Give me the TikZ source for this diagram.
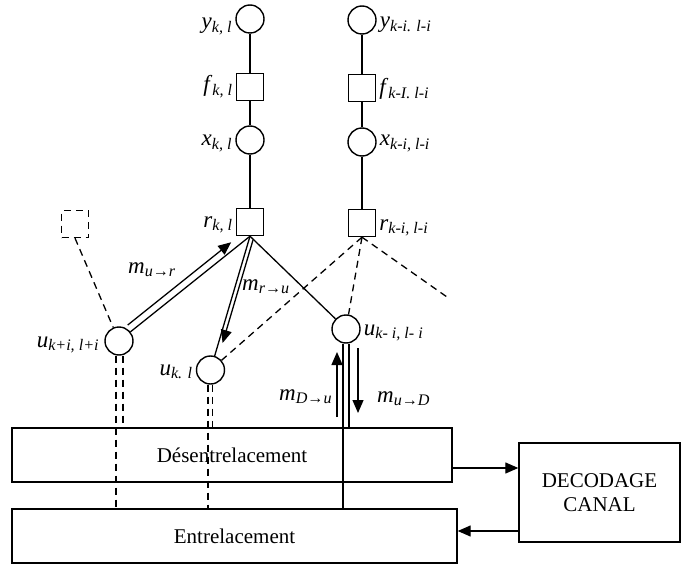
\documentclass[tikz,border=0pt]{standalone}
\usepackage{fontspec}
\setmainfont{Liberation Serif}
\usetikzlibrary{calc,arrows.meta}

\newcommand{\vname}[2]{\textit{#1}\textsubscript{\textit{#2}}}

\tikzset{
  var/.style={circle,draw,line width=1.4pt,minimum size=28pt,inner sep=0pt},
  fac/.style={rectangle,draw,line width=1.4pt,minimum size=27pt,inner sep=0pt},
  blk/.style={rectangle,draw,line width=1.4pt,inner sep=0pt,font=\fontsize{21}{24}\selectfont},
  lblg/.style={inner sep=3pt,anchor=base east,font=\fontsize{23}{26}\selectfont},
  lbld/.style={inner sep=3pt,anchor=base west,font=\fontsize{23}{26}\selectfont},
  lien/.style={line width=1.3pt},
  tiret/.style={line width=1.3pt,dash pattern=on 7pt off 5pt},
  msg/.style={-{Triangle[length=13pt,width=11pt]},line width=1.3pt},
}

\begin{document}
\begin{tikzpicture}[x=1pt,y=-1pt]
\useasboundingbox (0,0) rectangle (682,564);
% colonne k,l
\node[var] (y1) at (250,19) {};
\node[fac] (f1) at (250,87) {};
\node[var] (x1) at (250,140) {};
\node[fac] (r1) at (250,222) {};
% colonne k-i,l-i
\node[var] (y2) at (362,20) {};
\node[fac] (f2) at (362,88) {};
\node[var] (x2) at (362,142) {};
\node[fac] (r2) at (362,223) {};
\node[fac,tiret] (r0) at (75,224) {};
% noeuds u
\node[var] (u1) at (119,341) {};
\node[var] (u2) at (210.5,370) {};
\node[var] (u3) at (346,329) {};
% blocs
\node[blk,minimum width=440pt,minimum height=54pt] (des) at (232,455) {Désentrelacement};
\node[blk,minimum width=445pt,minimum height=54pt] (ent) at (234.5,536) {Entrelacement};
\node[blk,minimum width=161pt,minimum height=99pt,align=center] (dec) at (599.5,492.5) {DECODAGE\\CANAL};
% etiquettes
\node[lblg] (ly1) at ($(y1.west)+(0,10)$) {\vname{y}{k, l}};
\node[lblg] (lf1) at ($(f1.west)+(0,5)$) {\vname{f}{k, l}};
\node[lblg] (lx1) at ($(x1.west)+(0,6)$) {\vname{x}{k, l}};
\node[lblg] (lr1) at ($(r1.west)+(0,5)$) {\vname{r}{k, l}};
\node[lbld] (ly2) at ($(y2.east)+(0,8)$) {\vname{y}{k-i. l-i}};
\node[lbld] (lf2) at ($(f2.east)+(0,7)$) {\vname{f}{k-I. l-i}};
\node[lbld] (lx2) at ($(x2.east)+(0,4)$) {\vname{x}{k-i, l-i}};
\node[lbld] (lr2) at ($(r2.east)+(0,7)$) {\vname{r}{k-i, l-i}};
\node[lblg] (lu1) at ($(u1.west)+(-2,6)$) {\vname{u}{k+i, l+i}};
\node[lblg] (lu2) at ($(u2.west)+(0,5)$) {\vname{u}{k. l}};
\node[lbld] (lu3) at ($(u3.east)+(0,6)$) {\vname{u}{k- i, l- i}};
% liens
\draw[lien] (y1) -- (f1) -- (x1) -- (r1);
\draw[lien] (y2) -- (f2) -- (x2) -- (r2);
\draw[lien] (r1.south) -- (u1);
\draw[lien] (r1.south) -- (u2);
\draw[lien] (r1.south) -- (u3);
\coordinate (fin) at (447,297);
\draw[tiret] (r2.south) -- (u2);
\draw[tiret] (r2.south) -- (u3);
\draw[tiret] (r2.south) -- (fin);
\draw[tiret] (r0.south) -- (u1);
% vers les blocs
\coordinate (p1) at ($(u1.south)+(-3,0)$);
\coordinate (p2) at ($(u1.south)+(4,0)$);
\coordinate (q1) at ($(u2.south)+(-2.5,0)$);
\coordinate (q2) at ($(u2.south)+(2,0)$);
\coordinate (a1) at ($(u3.south)+(-3,0)$);
\coordinate (a2) at ($(u3.south)+(3,0)$);
\draw[tiret] (p1) -- (p1 |- ent.north);
\draw[tiret] (p2) -- (p2 |- des.north);
\draw[tiret] (q1) -- (q1 |- ent.north);
\draw[tiret] (q2) -- (q2 |- des.north);
\draw[lien] (a1) -- (a1 |- ent.north);
\draw[lien] (a2) -- (a2 |- des.north);
% messages
\draw[msg] ($(u1)!0.1!(r1.south)+(-4.4,-5.5)$) -- ($(u1)!0.89!(r1.south)+(-4.4,-5.5)$);
\draw[msg] ($(r1.south)!0.02!(u2)+(3.8,1.1)$) -- ($(r1.south)!0.79!(u2)+(3.8,1.1)$);
\draw[msg] ($(u3)+(-9,88)$) -- ($(u3)+(-9,23)$);
\draw[msg] ($(u3)+(12,19)$) -- ($(u3)+(12,84)$);
\node[lbld,inner sep=0pt] (mur) at (128,273) {\vname{m}{u→r}};
\node[lbld,inner sep=0pt] (mru) at (242,290) {\vname{m}{r→u}};
\node[lbld,inner sep=0pt] (mdu) at (279,400) {\vname{m}{D→u}};
\node[lbld,inner sep=0pt] (mud) at (377,402) {\vname{m}{u→D}};
% decodage
\coordinate (s1) at ($(des.east)+(0,13)$);
\coordinate (s2) at ($(dec.west)+(0,38.5)$);
\draw[msg] (s1) -- (s1 -| dec.west);
\draw[msg] (s2) -- (s2 -| ent.east);
\end{tikzpicture}
\end{document}
